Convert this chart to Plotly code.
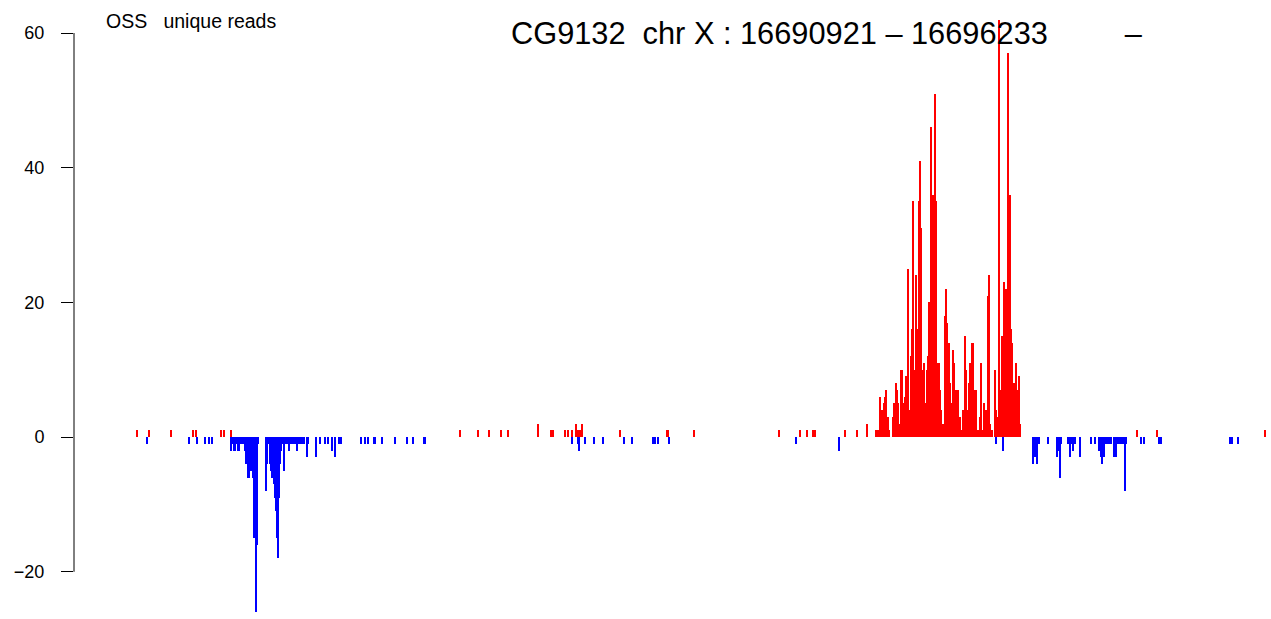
import plotly.graph_objects as go

GENE = "CG9132"
CHROM = "X"
START = 16690921
END = 16696233
STRAND = "–"
LIBRARY = "OSS"
READ_TYPE = "unique reads"

# plus-strand reads: offset from START (bp) and counts
plus_pos = [93, 155, 263, 373, 388, 515, 528, 565, 1710, 1800, 1855, 1915, 1950, 2100,
            2163, 2175, 2235, 2248, 2270, 2290, 2300, 2310, 2320, 2510, 2745, 2875, 3300,
            3405, 3440, 3470, 3480, 3630, 3690, 3743, 3787, 3799, 3809, 3816, 3825, 3832,
            3839, 3845, 3852, 3870, 3878, 3885, 3892, 3899, 3905, 3912, 3919, 3925, 3932,
            3939, 3945, 3952, 3959, 3965, 3972, 3979, 3985, 3992, 3999, 4005, 4012, 4019,
            4025, 4032, 4039, 4045, 4052, 4059, 4065, 4072, 4079, 4085, 4092, 4099, 4105,
            4112, 4122, 4129, 4136, 4143, 4150, 4157, 4164, 4170, 4177, 4187, 4194, 4200,
            4207, 4214, 4220, 4225, 4230, 4237, 4244, 4250, 4257, 4264, 4270, 4277, 4285,
            4294, 4304, 4310, 4317, 4324, 4330, 4337, 4344, 4350, 4357, 4364, 4380, 4387,
            4394, 4400, 4407, 4414, 4420, 4427, 4434, 4440, 4447, 4454, 4460, 4467, 4474,
            4480, 4487, 4494, 4500, 4507, 5090, 5190, 5730]
plus_val = [1, 1, 1, 1, 1, 1, 1, 1, 1, 1, 1, 1, 1, 2,
            1, 1, 1, 1, 1, 2, 1, 1, 2, 1, 1, 1, 1,
            1, 1, 1, 1, 1, 1, 2, 1, 1, 6, 4, 5, 6,
            7, 3, 1, 3, 5, 8, 7, 5, 2, 10, 10, 5, 6,
            9, 25, 4, 12, 16, 35, 10, 24, 16, 35, 41, 31, 10,
            11, 5, 10, 12, 20, 46, 3, 36, 51, 35, 11, 11, 7,
            4, 2, 18, 22, 17, 14, 8, 5, 13, 11, 7, 7, 3,
            3, 1, 4, 4, 15, 10, 4, 8, 11, 14, 14, 7, 7,
            1, 3, 11, 1, 5, 1, 4, 21, 24, 2, 1, 10, 4,
            3, 62, 7, 15, 8, 23, 22, 16, 57, 36, 16, 14, 8,
            8, 11, 7, 9, 2, 1, 1, 1]

# minus-strand reads: offset from START (bp) and counts (negative)
minus_pos = [143, 353, 395, 435, 455, 470, 565, 572, 578, 584, 590, 597, 603, 609, 615,
             622, 628, 635, 641, 647, 653, 659, 665, 671, 676, 681, 688, 694, 699, 738,
             745, 752, 758, 764, 770, 777, 783, 788, 792, 797, 803, 809, 815, 821, 828,
             834, 840, 846, 853, 859, 865, 871, 878, 885, 893, 900, 908, 915, 923, 930,
             943, 950, 988, 1010, 1035, 1050, 1070, 1085, 1103, 1115, 1215, 1235, 1250,
             1278, 1285, 1320, 1383, 1443, 1475, 1528, 1535, 2270, 2298, 2303, 2335, 2380,
             2425, 2530, 2570, 2675, 2683, 2700, 2750, 3385, 3600, 4385, 4420, 4569, 4579,
             4589, 4599, 4645, 4689, 4698, 4705, 4713, 4745, 4755, 4765, 4773, 4783, 4805,
             4863, 4880, 4903, 4910, 4918, 4924, 4933, 4940, 4950, 4960, 4975, 4984, 4992,
             5000, 5010, 5020, 5030, 5038, 5110, 5125, 5198, 5208, 5555, 5565, 5593]
minus_val = [-1, -1, -1, -1, -1, -1, -2, -1, -2, -2, -1, -2, -2, -1, -1,
             -1, -1, -2, -4, -6, -6, -5, -5, -4, -6, -15, -26, -16, -1, -8,
             -4, -1, -4, -5, -6, -7, -9, -11, -15, -18, -9, -4, -2, -1, -5,
             -1, -1, -1, -2, -1, -1, -1, -1, -1, -2, -1, -1, -1, -1, -1,
             -3, -1, -3, -1, -1, -1, -2, -3, -1, -1, -1, -1, -1,
             -1, -1, -1, -1, -1, -1, -1, -1, -1, -1, -2, -1, -1,
             -1, -1, -1, -1, -1, -1, -1, -1, -2, -1, -2, -4, -3,
             -4, -1, -1, -3, -2, -6, -1, -1, -3, -1, -2, -1, -3,
             -1, -1, -2, -3, -4, -3, -1, -1, -1, -1, -3, -3, -1,
             -1, -1, -1, -8, -1, -1, -1, -1, -1, -1, -1, -1]

y_ticks = [-20, 0, 20, 40, 60]

FONT = "Liberation Sans, Arial, Helvetica, sans-serif"

fig = go.Figure()
fig.add_trace(go.Bar(x=plus_pos, y=plus_val, width=10, marker=dict(color="#ff0000", line=dict(width=0)),
                     name="plus", showlegend=False))
fig.add_trace(go.Bar(x=minus_pos, y=minus_val, width=10, marker=dict(color="#0000ff", line=dict(width=0)),
                     name="minus", showlegend=False))

fig.update_layout(
    width=1271, height=619,
    margin=dict(l=74, r=0, t=0, b=0),
    paper_bgcolor="white", plot_bgcolor="white",
    barmode="overlay", bargap=0,
    font=dict(family=FONT, color="black"),
    xaxis=dict(range=[-220, 5760], visible=False),
    yaxis=dict(range=[-27.01, 64.90], tickvals=y_ticks, ticktext=[str(v).replace("-", "\u2212") for v in y_ticks],
               ticks="outside", ticklen=12, tickwidth=1, tickcolor="black",
               showgrid=False, zeroline=False, showline=False,
               tickfont=dict(size=18, family=FONT, color="black"), ticklabelstandoff=13),
    shapes=[dict(type="line", xref="paper", x0=0, x1=0, yref="y", y0=y_ticks[0], y1=y_ticks[-1],
                 line=dict(color="black", width=1))],
)

sp = "\u00a0"
title = f"{GENE}{sp*2}chr {CHROM} : {START} – {END}{sp*9}{STRAND}"
fig.add_annotation(text=title, xref="paper", yref="paper", x=(509 - 74) / 1197, y=1 - 34 / 619,
                   xanchor="left", yanchor="middle", showarrow=False,
                   font=dict(size=30.75, family=FONT, color="black"))
fig.add_annotation(text=f"{LIBRARY}{sp*3}{READ_TYPE}", xref="paper", yref="paper",
                   x=(104 - 74) / 1197, y=1 - 21 / 619, xanchor="left", yanchor="middle",
                   showarrow=False, font=dict(size=19.5, family=FONT, color="black"))

fig.write_html("out.html", config={"displayModeBar": False},
               post_script="document.body.style.margin='0px';")
